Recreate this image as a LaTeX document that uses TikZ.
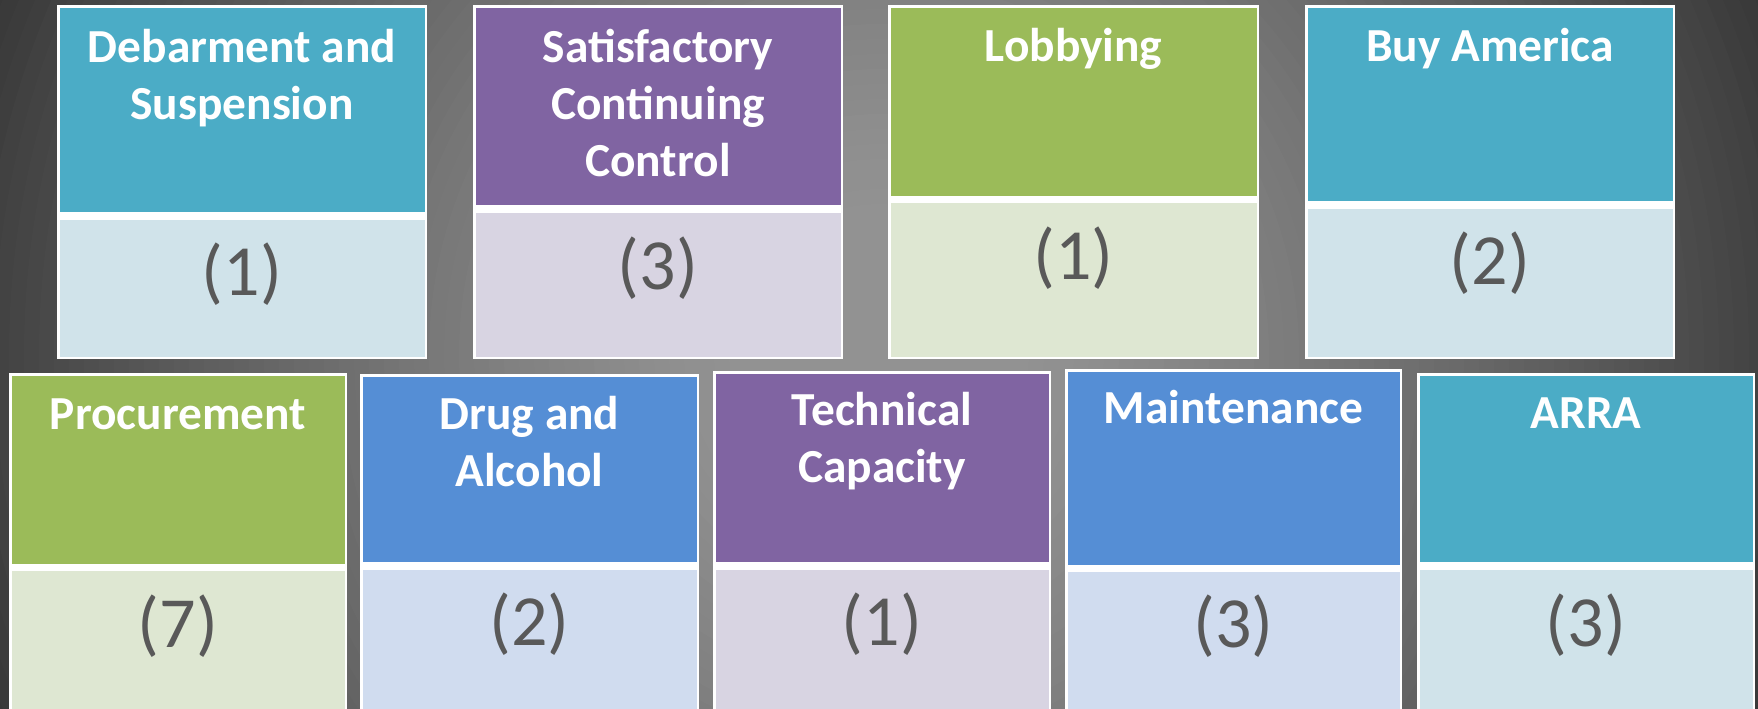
\documentclass[tikz,border=0pt]{standalone}
\usepackage{fontspec}
\newfontfamily\carlito{Carlito}
\definecolor{bgcenter}{HTML}{929292}
\definecolor{bgedge}{HTML}{383838}
\definecolor{AquaHead}{HTML}{4BACC6}
\definecolor{AquaBody}{HTML}{D0E3EA}
\definecolor{PurpleHead}{HTML}{8064A2}
\definecolor{PurpleBody}{HTML}{D8D4E2}
\definecolor{GreenHead}{HTML}{9BBB59}
\definecolor{GreenBody}{HTML}{DEE7D2}
\definecolor{BlueHead}{HTML}{558ED5}
\definecolor{BlueBody}{HTML}{D0DCEF}
\definecolor{CountGray}{HTML}{595959}
\begin{document}
\begin{tikzpicture}
   [x=0.5pt, y=-0.5pt,
   head/.style={anchor=north, align=center, inner sep=0pt, text=white,
     font=\carlito\bfseries\fontsize{23.7}{28.5}\selectfont},
   count/.style={anchor=base, inner sep=0pt, text=CountGray,
     font=\carlito\fontsize{36}{42}\selectfont}]
    \clip (0,0) rectangle (1758,708);
    \foreach \k in {64,63,...,1} {
      \pgfmathsetmacro\glowmix{100*max(0.0001,(\k/64-0.15)/0.85)^1.3}
      \fill[bgedge!\glowmix!bgcenter] (879,354) circle (\k*15);
    }

    \fill[white] (57,5) rectangle (427,359);
    \fill[AquaHead] (59.5,7.5) rectangle (424.5,212);
    \fill[AquaBody] (59.5,220) rectangle (424.5,356.5);
    \node[head] (debarment) at (242,22) {\strut Debarment and\\Suspension};
    \node[count] (debarmentN) at (242,295) {(1)};

    \fill[white] (473,5) rectangle (843,359);
    \fill[PurpleHead] (475.5,7.5) rectangle (840.5,205);
    \fill[PurpleBody] (475.5,213) rectangle (840.5,356.5);
    \node[head] (control) at (658,22) {\strut Satisfactory\\Continuing\\Control};
    \node[count] (controlN) at (658,289) {(3)};

    \fill[white] (888,5) rectangle (1259,359);
    \fill[GreenHead] (890.5,7.5) rectangle (1256.5,196);
    \fill[GreenBody] (890.5,203) rectangle (1256.5,356.5);
    \node[head] (lobbying) at (1073.5,21) {\strut Lobbying};
    \node[count] (lobbyingN) at (1073.5,279) {(1)};

    \fill[white] (1305,5) rectangle (1675,359);
    \fill[AquaHead] (1307.5,7.5) rectangle (1672.5,201);
    \fill[AquaBody] (1307.5,209) rectangle (1672.5,356.5);
    \node[head] (buyamerica) at (1490,21) {\strut Buy America};
    \node[count] (buyamericaN) at (1490,284) {(2)};

    \fill[white] (9,373) rectangle (347,720);
    \fill[GreenHead] (11.5,375.5) rectangle (344.5,564);
    \fill[GreenBody] (11.5,571) rectangle (344.5,720);
    \node[head] (procurement) at (178,389) {\strut Procurement};
    \node[count] (procurementN) at (178,647) {(7)};

    \fill[white] (360,374) rectangle (699,720);
    \fill[BlueHead] (362.5,376.5) rectangle (696.5,562);
    \fill[BlueBody] (362.5,570) rectangle (696.5,720);
    \node[head] (drug) at (529.5,389) {\strut Drug and\\Alcohol};
    \node[count] (drugN) at (529.5,645) {(2)};

    \fill[white] (713,371) rectangle (1051,720);
    \fill[PurpleHead] (715.5,373.5) rectangle (1048.5,562);
    \fill[PurpleBody] (715.5,570) rectangle (1048.5,720);
    \node[head] (technical) at (882,385) {\strut Technical\\Capacity};
    \node[count] (technicalN) at (882,645) {(1)};

    \fill[white] (1065,369) rectangle (1402,720);
    \fill[BlueHead] (1067.5,371.5) rectangle (1399.5,565);
    \fill[BlueBody] (1067.5,572) rectangle (1399.5,720);
    \node[head] (maintenance) at (1233.5,383) {\strut Maintenance};
    \node[count] (maintenanceN) at (1233.5,647) {(3)};

    \fill[white] (1417,373) rectangle (1755,720);
    \fill[AquaHead] (1419.5,375.5) rectangle (1752.5,562);
    \fill[AquaBody] (1419.5,570) rectangle (1752.5,720);
    \node[head] (arra) at (1586,388) {\strut ARRA};
    \node[count] (arraN) at (1586,646) {(3)};
\end{tikzpicture}
\end{document}
